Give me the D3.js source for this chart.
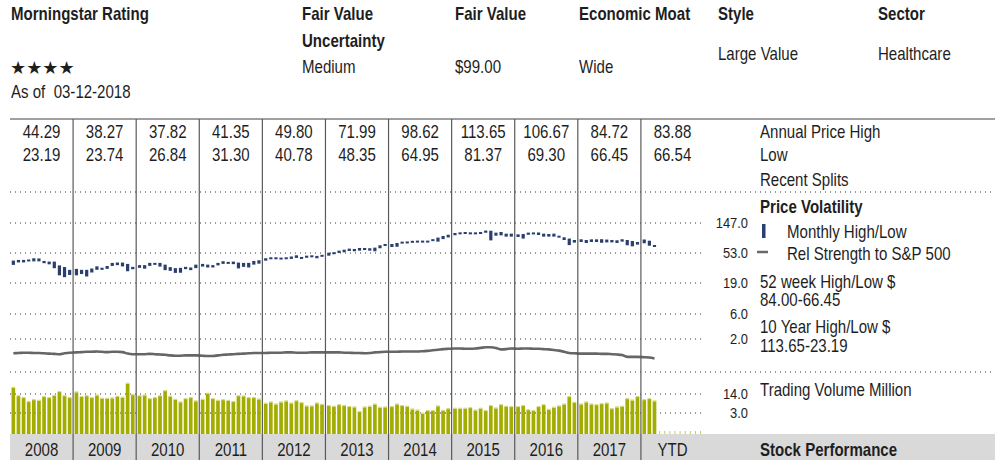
<!DOCTYPE html>
<html lang="en">
<head>
<meta charset="UTF-8">
<title>Price Volatility</title>
<script src="https://cdn.jsdelivr.net/npm/d3@7/dist/d3.min.js"></script>
<style>
    body { margin: 0; background: #fff; }
    text { font-family: "Liberation Sans", Arial, sans-serif; fill: #1e1e1e; white-space: pre; }
    .b { font-weight: bold; }
    .dots { stroke: #333; stroke-width: 1; stroke-dasharray: 1,4; }
</style>
</head>
<body>
<svg width="1003" height="460"></svg>
<script>
    var years = ["2008", "2009", "2010", "2011", "2012", "2013", "2014", "2015", "2016", "2017", "YTD"];
    var annualHigh = ["44.29", "38.27", "37.82", "41.35", "49.80", "71.99", "98.62", "113.65", "106.67", "84.72", "83.88"];
    var annualLow = ["23.19", "23.74", "26.84", "31.30", "40.78", "48.35", "64.95", "81.37", "69.30", "66.45", "66.54"];

    // monthly high / low price, one row per year
    var monthlyHigh = [
        [40.9, 41.8, 41.8, 42.5, 44.29, 44.0, 40.4, 39.5, 39.5, 34.7, 32.8, 29.8],
        [30.8, 29.8, 29.8, 31.2, 33.6, 32.0, 34.0, 37.8, 38.27, 38.2, 36.5, 33.0],
        [35.0, 35.0, 37.8, 37.82, 37.8, 35.6, 32.7, 31.6, 31.9, 33.0, 32.3, 35.6],
        [36.5, 35.6, 35.0, 37.8, 40.0, 39.1, 39.5, 38.2, 37.8, 37.8, 40.4, 41.35],
        [44.3, 45.8, 45.8, 45.3, 45.8, 47.0, 49.0, 46.3, 48.4, 49.0, 48.0, 49.80],
        [53.6, 54.5, 57.4, 59.3, 61.5, 60.8, 62.9, 62.9, 62.3, 63.6, 68.9, 71.99],
        [72.0, 74.5, 78.0, 78.5, 80.2, 80.8, 80.8, 80.8, 84.9, 89.5, 94.5, 98.62],
        [104.7, 107.0, 108.3, 107.0, 107.0, 108.3, 113.65, 113.0, 105.8, 108.3, 102.3, 102.3],
        [100.0, 101.2, 106.0, 106.67, 106.5, 102.3, 101.2, 102.3, 95.5, 90.4, 86.5, 82.5],
        [84.5, 82.5, 84.3, 84.3, 84.72, 83.7, 82.5, 81.7, 84.6, 82.5, 79.8, 77.1],
        [83.88, 80.5, 69.6]
    ];
    var monthlyLow = [
        [35.3, 38.4, 38.4, 39.8, 39.8, 39.8, 37.4, 36.0, 31.5, 24.7, 23.19, 25.0],
        [24.7, 25.8, 23.74, 27.2, 29.8, 29.8, 30.8, 34.0, 35.0, 33.5, 28.4, 30.4],
        [31.9, 31.0, 34.1, 35.6, 33.3, 29.5, 28.8, 26.84, 27.0, 30.5, 29.5, 31.6],
        [33.3, 32.3, 32.3, 34.7, 36.5, 36.5, 36.2, 31.30, 33.0, 32.3, 35.6, 36.8],
        [40.78, 42.8, 43.3, 43.3, 43.3, 43.3, 44.8, 43.8, 45.0, 46.8, 44.3, 47.0],
        [48.35, 50.8, 53.1, 54.3, 56.8, 56.2, 57.4, 58.5, 57.4, 56.2, 62.3, 67.3],
        [64.95, 65.5, 73.5, 74.0, 75.5, 76.0, 76.0, 76.0, 79.8, 78.0, 85.0, 90.0],
        [97.0, 100.2, 102.3, 100.2, 100.2, 101.5, 105.5, 81.37, 95.5, 96.5, 92.5, 92.5],
        [91.4, 86.5, 98.5, 100.2, 97.8, 92.5, 92.5, 92.5, 89.3, 82.5, 69.30, 75.5],
        [77.1, 74.5, 77.1, 77.1, 75.0, 76.0, 76.0, 74.5, 78.0, 68.9, 66.45, 70.5],
        [73.8, 67.9, 66.54]
    ];
    // relative strength to S&P 500 (index)
    var relStrength = [
        [99.5, 100, 100.5, 100.5, 100, 100, 99.5, 99, 98.5, 98, 99.5, 100.5],
        [101, 101.5, 102, 102, 102.5, 102, 101.5, 102, 102, 101.5, 99, 98],
        [98, 98, 98.5, 98, 97.5, 97, 96, 95.5, 95.5, 96, 96, 96],
        [95.5, 95, 95, 96, 97, 97.5, 98, 98.5, 99, 99.5, 100, 100],
        [100, 100.5, 100.5, 100.5, 101, 101, 100.5, 100.5, 100.5, 101, 101, 101],
        [101, 101, 101, 100.5, 100.5, 100, 100, 99.5, 100, 101, 101.5, 102],
        [102, 102, 102.5, 102.5, 102.5, 102.5, 103, 103.5, 104.5, 105.5, 106.5, 107],
        [107.5, 107.5, 107, 107, 107.5, 108.5, 109.5, 109.5, 108.5, 106, 106.5, 107.5],
        [107, 107.5, 107.5, 107, 107, 106.5, 106, 105, 104, 102, 100, 99.5],
        [99, 99, 99, 99, 98.5, 98.5, 98, 97.5, 96.5, 93.5, 93.5, 93.5],
        [93, 92.5, 91]
    ];
    // trading volume, million
    var volume = [
        [17.6, 12.8, 11.7, 9.4, 10.5, 10.1, 12.3, 11.7, 13.0, 15.2, 12.8, 11.7],
        [15.0, 12.3, 12.8, 11.7, 13.2, 11.3, 11.3, 11.5, 12.5, 11.9, 20.0, 13.4],
        [12.8, 13.2, 11.1, 11.7, 12.8, 15.7, 12.5, 10.7, 9.2, 11.1, 11.7, 9.8],
        [10.7, 14.2, 11.1, 10.1, 10.5, 10.1, 9.4, 12.8, 12.7, 11.7, 11.7, 10.9],
        [8.4, 9.2, 8.0, 9.2, 9.8, 8.6, 9.9, 8.8, 6.9, 6.9, 8.6, 7.8],
        [7.1, 6.7, 7.6, 7.1, 6.5, 6.3, 3.6, 6.3, 6.7, 8.0, 6.1, 6.3],
        [6.5, 8.0, 7.1, 6.7, 5.1, 4.5, 2.9, 4.2, 4.2, 6.9, 4.3, 5.3],
        [5.5, 5.5, 5.5, 5.9, 4.5, 5.5, 4.2, 7.1, 5.7, 7.6, 6.7, 6.5],
        [6.5, 7.1, 4.7, 4.2, 6.5, 7.6, 4.9, 6.1, 6.9, 8.0, 12.3, 9.0],
        [8.0, 9.2, 8.0, 7.6, 8.2, 8.6, 5.3, 6.3, 6.7, 11.1, 10.3, 12.3],
        [10.5, 11.1, 9.8]
    ];
    var priceTicks = [147, 53, 19, 6, 2];
    var volumeTicks = [14, 3];

    var svg = d3.select("svg");
    var months = d3.range(12);

    var x = d3.scaleBand().domain(years).range([10, 704]);
    var xm = d3.scaleBand().domain(months).range([1.5, 61.5]).paddingInner(0.28);
    var yPrice = d3.scaleLog().domain([2, 6, 19, 53, 147]).range([339, 314, 283, 253, 223]);
    var yRel = d3.scaleLinear().domain([90, 110]).range([359, 347]);
    var yVol = d3.scaleLinear().domain([0, 3, 14]).range([434, 413, 394]);

    function cx(yi, m) { return x(years[yi]) + xm(m) + xm.bandwidth() / 2; }

    // header
    var head = svg.append("g");
    function txt(xx, yy, s, cls, size) {
        return head.append("text").attr("x", xx).attr("y", yy).attr("class", cls || null)
            .style("font-size", (size || 17.5) + "px").text(s);
    }
    txt(11, 20, "Morningstar Rating", "b");
    head.append("text").attr("class", "star").attr("x", 10).attr("y", 74).style("font-family", "DejaVu Sans")
        .style("font-size", "18px").text("★★★★");
    txt(11, 98, "As of  03-12-2018");
    txt(302, 20, "Fair Value", "b");
    txt(302, 47, "Uncertainty", "b");
    txt(302, 73, "Medium");
    txt(455, 20, "Fair Value", "b");
    txt(455, 73, "$99.00");
    txt(579, 20, "Economic Moat", "b");
    txt(579, 73, "Wide");
    txt(718, 20, "Style", "b");
    txt(718, 60, "Large Value");
    txt(878, 20, "Sector", "b");
    txt(878, 60, "Healthcare");

    // gray year band and frame
    svg.append("rect").attr("x", 10).attr("y", 434).attr("width", 985).attr("height", 26).attr("fill", "#d9d9d9");
    svg.append("line").attr("x1", 10).attr("x2", 995).attr("y1", 119).attr("y2", 119)
        .attr("stroke", "#808080").attr("stroke-width", 1.5);

    // dotted separators
    svg.selectAll(".sep").data([192, 372]).enter().append("line").attr("class", "dots")
        .attr("x1", 10).attr("x2", 995).attr("y1", function(d){ return d; }).attr("y2", function(d){ return d; });
    svg.selectAll(".pg").data(priceTicks).enter().append("line").attr("class", "dots")
        .attr("x1", 10).attr("x2", 702).attr("y1", function(d){ return yPrice(d); }).attr("y2", function(d){ return yPrice(d); });
    svg.selectAll(".vg").data(volumeTicks).enter().append("line").attr("class", "dots")
        .attr("x1", 10).attr("x2", 702).attr("y1", function(d){ return yVol(d); }).attr("y2", function(d){ return yVol(d); });

    // axis labels
    var fmt = d3.format(".1f");
    svg.append("g").attr("transform", "translate(748,0)")
        .call(d3.axisLeft(yPrice).tickValues(priceTicks).tickSize(0).tickPadding(0).tickFormat(fmt))
        .call(function(g){ g.select(".domain").remove(); });
    svg.append("g").attr("transform", "translate(748,0)")
        .call(d3.axisLeft(yVol).tickValues(volumeTicks).tickSize(0).tickPadding(0).tickFormat(fmt))
        .call(function(g){ g.select(".domain").remove(); });
    svg.selectAll(".tick text").style("font-size", "15px").attr("fill", "#1e1e1e")
        .style("font-family", "\"Liberation Sans\", Arial, sans-serif").attr("dy", "0.3em");

    // table values
    svg.selectAll(".hi").data(annualHigh).enter().append("text")
        .attr("x", function(d, i){ return x(years[i]) + x.bandwidth() / 2; }).attr("y", 138)
        .attr("text-anchor", "middle").style("font-size", "17.5px").text(function(d){ return d; });
    svg.selectAll(".lo").data(annualLow).enter().append("text")
        .attr("x", function(d, i){ return x(years[i]) + x.bandwidth() / 2; }).attr("y", 161)
        .attr("text-anchor", "middle").style("font-size", "17.5px").text(function(d){ return d; });

    // price bars
    var bars = [];
    monthlyHigh.forEach(function(row, yi) {
        row.forEach(function(h, m) { bars.push({ yi: yi, m: m, hi: h, lo: monthlyLow[yi][m] }); });
    });
    svg.append("g").selectAll("rect").data(bars).enter().append("rect")
        .attr("x", function(d){ return cx(d.yi, d.m) - 1.6; })
        .attr("width", 3.2)
        .attr("y", function(d){ return yPrice(d.hi); })
        .attr("height", function(d){ return Math.max(2, yPrice(d.lo) - yPrice(d.hi)); })
        .attr("fill", "#2b3f6e");

    // relative strength line
    var rel = [];
    relStrength.forEach(function(row, yi) {
        row.forEach(function(v, m) { rel.push({ yi: yi, m: m, v: v }); });
    });
    svg.append("path").datum(rel)
        .attr("d", d3.line().curve(d3.curveMonotoneX)
            .x(function(d){ return cx(d.yi, d.m); }).y(function(d){ return yRel(d.v); }))
        .attr("fill", "none").attr("stroke", "#666").attr("stroke-width", 2.6);

    // volume bars
    var vols = [];
    volume.forEach(function(row, yi) {
        row.forEach(function(v, m) { vols.push({ yi: yi, m: m, v: v }); });
    });
    var vg = svg.append("g");
    vg.selectAll(".vb").data(vols).enter().append("rect")
        .attr("x", function(d){ return x(years[d.yi]) + xm(d.m); })
        .attr("width", xm.bandwidth())
        .attr("y", function(d){ return yVol(d.v); })
        .attr("height", function(d){ return yVol(0) - yVol(d.v); })
        .attr("fill", "#a3ad00");
    vg.selectAll(".vc").data(vols).enter().append("rect")
        .attr("x", function(d){ return x(years[d.yi]) + xm(d.m); })
        .attr("width", xm.bandwidth())
        .attr("y", function(d){ return yVol(d.v) - 1; })
        .attr("height", 1.2)
        .attr("fill", "#d5db86");
    // months still to come in YTD
    vg.selectAll(".stub").data(months.slice(volume[10].length)).enter().append("rect")
        .attr("x", function(d){ return x("YTD") + xm(d) + xm.bandwidth() / 2 - 0.5; })
        .attr("width", 1).attr("y", 431).attr("height", 3).attr("fill", "#c5cc55");

    // column separators
    svg.selectAll(".col").data(years.slice(1)).enter().append("line")
        .attr("x1", function(d){ return x(d); }).attr("x2", function(d){ return x(d); })
        .attr("y1", 119).attr("y2", 460).attr("stroke", "#5a5a5a").attr("stroke-width", 1.2);

    // year labels
    svg.selectAll(".yr").data(years).enter().append("text")
        .attr("x", function(d){ return x(d) + x.bandwidth() / 2; }).attr("y", 456)
        .attr("text-anchor", "middle").style("font-size", "17.5px").text(function(d){ return d; });

    // right legend
    var lg = svg.append("g");
    function lt(yy, s, cls, xx) {
        lg.append("text").attr("x", xx || 760).attr("y", yy).attr("class", cls || null)
            .style("font-size", "17.5px").text(s);
    }
    lt(138, "Annual Price High");
    lt(161, "Low");
    lt(186, "Recent Splits");
    lt(213, "Price Volatility", "b");
    lg.append("rect").attr("x", 762).attr("y", 224).attr("width", 3.5).attr("height", 14).attr("fill", "#2b3f6e");
    lt(238, "Monthly High/Low", null, 787);
    lg.append("line").attr("x1", 757).attr("x2", 768).attr("y1", 252).attr("y2", 252)
        .attr("stroke", "#6a6a6a").attr("stroke-width", 2.5);
    lt(260, "Rel Strength to S&P 500", null, 787);
    lt(288, "52 week High/Low $");
    lt(306, "84.00-66.45");
    lt(333, "10 Year High/Low $");
    lt(352, "113.65-23.19");
    lt(396, "Trading Volume Million");
    lt(456, "Stock Performance", "b");

    // condensed look: squeeze every text horizontally around its anchor
    svg.selectAll("text").each(function() {
        var t = d3.select(this);
        if (t.classed("star")) return;
        var tx = +t.attr("x") || 0, ty = +t.attr("y") || 0;
        t.attr("x", null).attr("y", null)
            .attr("transform", "translate(" + tx + "," + ty + ") scale(0.86,1)");
    });
</script>
</body>
</html>
